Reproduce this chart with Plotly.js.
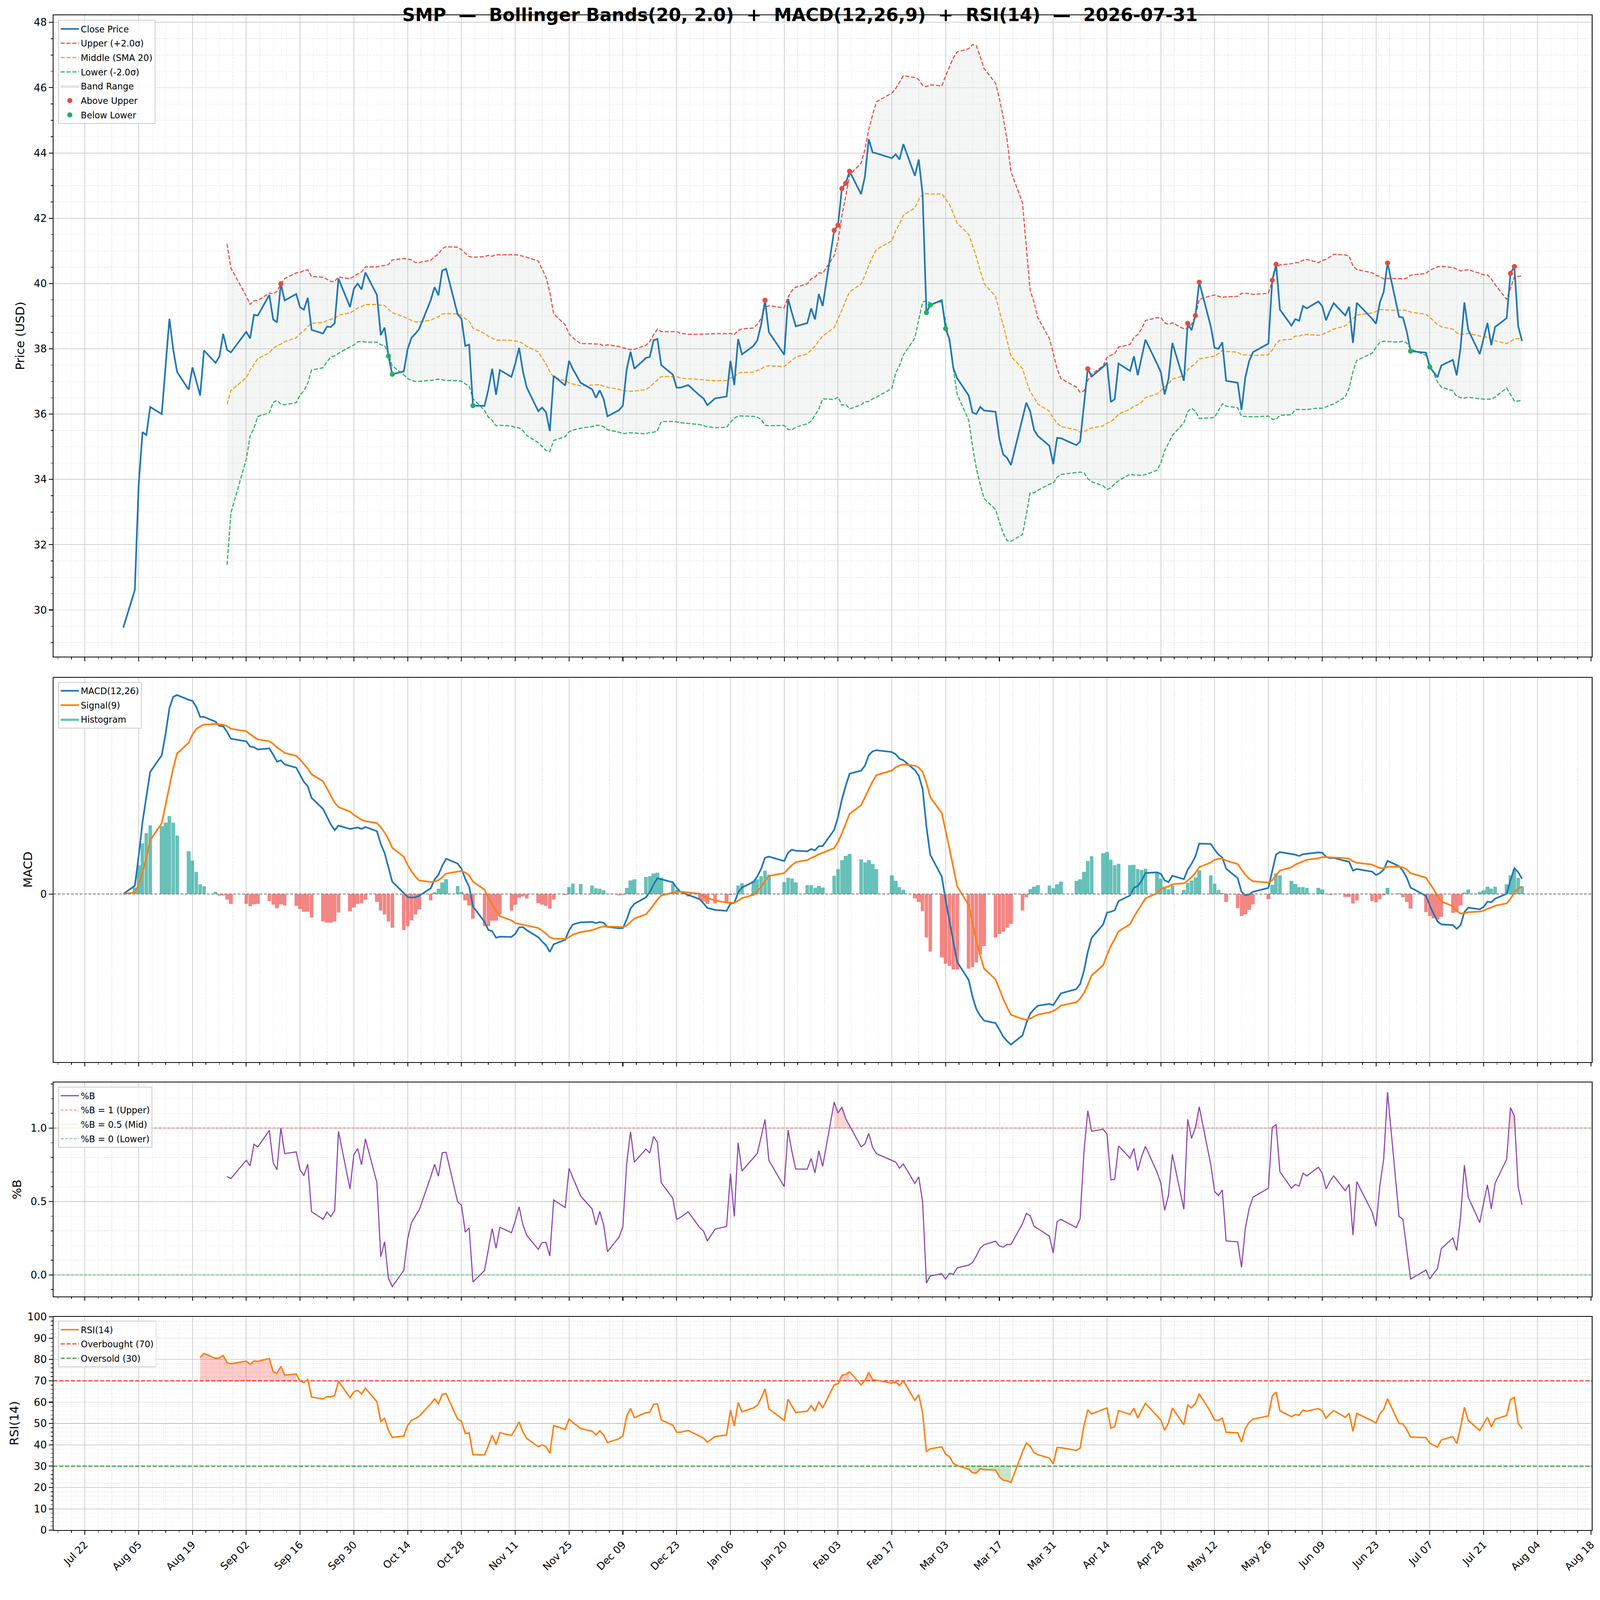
<!DOCTYPE html>
<html>
<head>
<meta charset="utf-8">
<script src="https://cdn.plot.ly/plotly-3.0.1.min.js"></script>
<style>
  html, body { margin: 0; padding: 0; background: #ffffff; overflow: hidden; }
  #plot { width: 4378px; height: 4322px; transform-origin: 0 0; }
</style>
</head>
<body>
<div id="plot"></div>
<script>
// daily closes of SMP, one array per month (exchange trading days)
const closeAug25 = [29.46, 30.61, 33.84, 35.45, 35.36, 36.22, 36.00, 37.40, 38.92, 37.97, 37.29, 36.75, 37.43, 37.01, 36.57, 37.95, 37.57, 37.76, 38.46, 37.97, 37.89];
const closeSep25 = [38.52, 38.32, 39.04, 39.02, 39.65, 38.90, 38.81, 39.99, 39.48, 39.68, 39.27, 39.20, 39.56, 38.58, 38.47, 38.68, 38.67, 38.78, 40.15, 39.28, 39.84];
const closeOct25 = [40.00, 39.82, 40.34, 39.65, 38.42, 38.65, 37.78, 37.22, 37.31, 37.99, 38.34, 38.46, 38.61, 39.49, 39.89, 39.64, 40.40, 40.45, 39.06, 38.92, 38.09, 38.13, 36.26];
const closeNov25 = [36.25, 36.75, 37.39, 36.59, 37.35, 37.14, 37.54, 38.03, 37.31, 36.81, 36.09, 36.20, 36.06, 35.48, 37.17, 36.88, 37.63, 37.38, 36.96];
const closeDec25 = [36.76, 36.50, 36.73, 36.46, 35.93, 36.12, 36.26, 37.37, 37.91, 37.39, 37.72, 37.75, 38.26, 38.30, 37.50, 37.21, 36.81, 36.81, 36.89, 36.57, 36.48, 36.27];
const closeJan26 = [36.48, 36.54, 37.63, 36.89, 38.30, 37.83, 38.09, 38.26, 38.75, 39.49, 38.51, 37.82, 39.53, 39.10, 38.69, 38.79, 39.24, 38.90, 39.68, 39.31];
const closeFeb26 = [41.63, 41.79, 42.91, 43.07, 43.44, 42.74, 43.28, 44.42, 44.02, 43.99, 43.84, 43.96, 43.80, 44.27, 43.30, 43.80, 42.75, 39.11, 39.34];
const closeMar26 = [39.49, 38.62, 38.29, 37.41, 37.10, 36.57, 36.05, 36.00, 36.22, 36.11, 36.07, 35.23, 34.76, 34.66, 34.44, 35.85, 36.35, 36.09, 35.52, 35.33, 35.03, 34.47];
const closeApr26 = [35.27, 35.26, 35.05, 35.16, 36.30, 37.39, 37.15, 37.45, 37.57, 36.37, 36.46, 37.55, 37.32, 37.77, 37.19, 37.74, 38.28, 37.55, 37.29, 36.60, 37.08];
const closeMay26 = [38.18, 37.02, 38.78, 38.57, 39.02, 40.04, 38.69, 38.03, 38.00, 38.20, 37.02, 36.96, 36.13, 37.13, 37.63, 37.90, 38.16, 40.10, 40.59, 39.20];
const closeJun26 = [38.71, 38.91, 38.86, 39.31, 39.24, 39.45, 39.31, 38.87, 39.16, 39.40, 39.02, 39.29, 38.18, 39.41, 38.92, 38.77, 39.42, 39.74, 40.63, 38.98, 38.96];
const closeJul26 = [38.53, 37.93, 37.88, 37.44, 37.28, 37.13, 37.49, 37.66, 37.19, 38.03, 39.42, 38.58, 37.84, 38.32, 38.79, 38.11, 38.67, 38.94, 40.31, 40.52, 38.69, 38.24];

// exchange holidays with no close in the series
const holidays = ['2025-09-01', '2025-11-27', '2025-12-25', '2026-01-01', '2026-01-19',
                  '2026-02-16', '2026-04-03', '2026-05-25', '2026-06-19', '2026-07-03'];

const firstDay = '2025-08-01';
const lastDay = '2026-07-31';
const firstTick = '2025-07-22';

// indicator settings
const BB_WIN = 20, BB_K = 2.0;
const MACD_FAST = 12, MACD_SLOW = 26, MACD_SIG = 9;
const RSI_LEN = 14;

const W = 4378, H = 4322;
const DAY = 86400000;
const FONT = 'DejaVu Sans, Liberation Sans, sans-serif';

const close = [].concat(closeAug25, closeSep25, closeOct25, closeNov25, closeDec25, closeJan26,
                        closeFeb26, closeMar26, closeApr26, closeMay26, closeJun26, closeJul26);

function tradingDays(a, b) {
    const out = [];
    let t = Date.parse(a + 'T00:00:00Z');
    const end = Date.parse(b + 'T00:00:00Z');
    while (t <= end) {
        const d = new Date(t);
        const iso = d.toISOString().slice(0, 10);
        const wd = d.getUTCDay();
        if (wd !== 0 && wd !== 6 && holidays.indexOf(iso) < 0) out.push(iso);
        t += DAY;
    }
    return out;
}
const dates = tradingDays(firstDay, lastDay);
const n = Math.min(dates.length, close.length);

// ---- indicators ----
function ema(x, span) {
    const a = 2 / (span + 1);
    const out = [x[0]];
    for (let i = 1; i < x.length; i++) out.push(a * x[i] + (1 - a) * out[i - 1]);
    return out;
}

const mid = [], upper = [], lower = [];
for (let i = 0; i < n; i++) {
    if (i < BB_WIN - 1) { mid.push(null); upper.push(null); lower.push(null); continue; }
    const w = close.slice(i - BB_WIN + 1, i + 1);
    const m = w.reduce((s, v) => s + v, 0) / BB_WIN;
    const sd = Math.sqrt(w.reduce((s, v) => s + (v - m) * (v - m), 0) / (BB_WIN - 1));
    mid.push(m); upper.push(m + BB_K * sd); lower.push(m - BB_K * sd);
}
const pctB = close.slice(0, n).map((c, i) => upper[i] === null ? null : (c - lower[i]) / (upper[i] - lower[i]));

const emaFast = ema(close.slice(0, n), MACD_FAST), emaSlow = ema(close.slice(0, n), MACD_SLOW);
const macd = emaFast.map((v, i) => v - emaSlow[i]);
const signal = ema(macd, MACD_SIG);
const hist = macd.map((v, i) => v - signal[i]);

// RSI with Wilder style smoothing (alpha = 1/len, no adjust)
const rsi = [null];
{
    const a = 1 / RSI_LEN;
    let g = null, l = null;
    for (let i = 1; i < n; i++) {
        const d = close[i] - close[i - 1];
        const up = Math.max(d, 0), dn = Math.max(-d, 0);
        if (g === null) { g = up; l = dn; } else { g = (1 - a) * g + a * up; l = (1 - a) * l + a * dn; }
        if (i < RSI_LEN) { rsi.push(null); continue; }
        rsi.push(l === 0 ? 100 : 100 - 100 / (1 + g / l));
    }
}

// ---- helpers ----
const bbStart = BB_WIN - 1;
const bx = dates.slice(bbStart, n);
const sig = (cond) => {
    const xs = [], ys = [];
    for (let i = 0; i < n; i++) if (cond(i)) { xs.push(dates[i]); ys.push(close[i]); }
    return {x: xs, y: ys};
};
const above = sig(i => upper[i] !== null && close[i] > upper[i]);
const below = sig(i => lower[i] !== null && close[i] < lower[i]);

// fill_between(where=...) style polygons
function fillRuns(series, level, test, color, xa, ya) {
    const out = [];
    let i = 0;
    while (i < n) {
        if (series[i] !== null && test(series[i])) {
            let j = i;
            while (j + 1 < n && series[j + 1] !== null && test(series[j + 1])) j++;
            const xs = dates.slice(i, j + 1), ys = series.slice(i, j + 1);
            out.push({
                x: xs.concat(xs.slice().reverse()),
                y: ys.concat(xs.map(() => level)),
                type: 'scatter', mode: 'lines', fill: 'toself', fillcolor: color,
                line: {width: 0}, xaxis: xa, yaxis: ya, showlegend: false, hoverinfo: 'skip'
            });
            i = j + 1;
        } else i++;
    }
    return out;
}

function padRange(arrs) {
    let lo = Infinity, hi = -Infinity;
    arrs.forEach(a => a.forEach(v => { if (v !== null) { lo = Math.min(lo, v); hi = Math.max(hi, v); } }));
    const p = (hi - lo) * 0.05;
    return [lo - p, hi + p];
}

const fmt = t => new Date(t).toISOString().replace('T', ' ').slice(0, 19);
const t0 = Date.parse(dates[0] + 'T00:00:00Z'), t1 = Date.parse(dates[n - 1] + 'T00:00:00Z');
const xRange = [fmt(t0 - 0.05 * (t1 - t0)), fmt(t1 + 0.05 * (t1 - t0))];

// ---- traces ----
const traces = [];

// price panel
traces.push({x: bx, y: upper.slice(bbStart), type: 'scatter', mode: 'lines', line: {width: 0},
    xaxis: 'x', yaxis: 'y', showlegend: false, hoverinfo: 'skip'});
traces.push({x: bx, y: lower.slice(bbStart), type: 'scatter', mode: 'lines', line: {width: 0},
    fill: 'tonexty', fillcolor: 'rgba(149,165,166,0.10)', showlegend: false,
    xaxis: 'x', yaxis: 'y', hoverinfo: 'skip'});
// legend-only patch for the band
traces.push({x: [null], y: [null], type: 'scatter', mode: 'lines', fill: 'toself',
    fillcolor: 'rgba(149,165,166,0.3)', line: {width: 0}, name: 'Band Range',
    xaxis: 'x', yaxis: 'y', legendrank: 5, legendgroup: 'p5'});
traces.push({x: bx, y: upper.slice(bbStart), type: 'scatter', mode: 'lines', name: 'Upper (+2.0σ)',
    line: {color: '#e74c3c', width: 3, dash: '11px,5px'}, xaxis: 'x', yaxis: 'y', legendrank: 2, legendgroup: 'p2'});
traces.push({x: bx, y: mid.slice(bbStart), type: 'scatter', mode: 'lines', name: 'Middle (SMA 20)',
    line: {color: '#f39c12', width: 3, dash: '11px,5px'}, xaxis: 'x', yaxis: 'y', legendrank: 3, legendgroup: 'p3'});
traces.push({x: bx, y: lower.slice(bbStart), type: 'scatter', mode: 'lines', name: 'Lower (-2.0σ)',
    line: {color: '#27ae60', width: 3, dash: '11px,5px'}, xaxis: 'x', yaxis: 'y', legendrank: 4, legendgroup: 'p4'});
traces.push({x: dates.slice(0, n), y: close.slice(0, n), type: 'scatter', mode: 'lines', name: 'Close Price',
    line: {color: '#1f77b4', width: 4.5}, xaxis: 'x', yaxis: 'y', legendrank: 1, legendgroup: 'p1'});
traces.push({x: above.x, y: above.y, type: 'scatter', mode: 'markers', name: 'Above Upper',
    marker: {color: '#e74c3c', size: 14}, xaxis: 'x', yaxis: 'y', legendrank: 6, legendgroup: 'p6'});
traces.push({x: below.x, y: below.y, type: 'scatter', mode: 'markers', name: 'Below Lower',
    marker: {color: '#27ae60', size: 14}, xaxis: 'x', yaxis: 'y', legendrank: 7, legendgroup: 'p7'});

// MACD panel
const posX = [], posY = [], negX = [], negY = [];
for (let i = 0; i < n; i++) {
    if (hist[i] >= 0) { posX.push(dates[i]); posY.push(hist[i]); } else { negX.push(dates[i]); negY.push(hist[i]); }
}
traces.push({x: posX, y: posY, type: 'bar', width: 0.95 * DAY, showlegend: false,
    marker: {color: 'rgba(38,166,154,0.7)', line: {width: 0}}, xaxis: 'x2', yaxis: 'y2'});
traces.push({x: negX, y: negY, type: 'bar', width: 0.95 * DAY, showlegend: false,
    marker: {color: 'rgba(239,83,80,0.7)', line: {width: 0}}, xaxis: 'x2', yaxis: 'y2'});
traces.push({x: [null], y: [null], type: 'scatter', mode: 'lines', fill: 'toself', name: 'Histogram',
    fillcolor: 'rgba(38,166,154,0.7)', line: {width: 0}, xaxis: 'x2', yaxis: 'y2',
    legend: 'legend2', legendrank: 3, legendgroup: 'm3'});
traces.push({x: dates.slice(0, n), y: macd, type: 'scatter', mode: 'lines', name: 'MACD(12,26)',
    line: {color: '#1f77b4', width: 4.5}, xaxis: 'x2', yaxis: 'y2', legend: 'legend2', legendrank: 1, legendgroup: 'm1'});
traces.push({x: dates.slice(0, n), y: signal, type: 'scatter', mode: 'lines', name: 'Signal(9)',
    line: {color: '#ff7f0e', width: 4.5}, xaxis: 'x2', yaxis: 'y2', legend: 'legend2', legendrank: 2, legendgroup: 'm2'});

// %B panel
fillRuns(pctB, 1, v => v > 1, 'rgba(231,76,60,0.22)', 'x3', 'y3').forEach(t => traces.push(t));
fillRuns(pctB, 0, v => v < 0, 'rgba(39,174,96,0.22)', 'x3', 'y3').forEach(t => traces.push(t));
traces.push({x: xRange, y: [1, 1], type: 'scatter', mode: 'lines', name: '%B = 1 (Upper)',
    line: {color: 'rgba(231,76,60,0.7)', width: 2.2, dash: '8px,4px'}, xaxis: 'x3', yaxis: 'y3',
    legend: 'legend3', legendrank: 2, legendgroup: 'b2'});
traces.push({x: xRange, y: [0.5, 0.5], type: 'scatter', mode: 'lines', name: '%B = 0.5 (Mid)',
    line: {color: 'rgba(243,156,18,0.6)', width: 2.2, dash: '2px,3px'}, xaxis: 'x3', yaxis: 'y3',
    legend: 'legend3', legendrank: 3, legendgroup: 'b3'});
traces.push({x: xRange, y: [0, 0], type: 'scatter', mode: 'lines', name: '%B = 0 (Lower)',
    line: {color: 'rgba(39,174,96,0.7)', width: 2.2, dash: '8px,4px'}, xaxis: 'x3', yaxis: 'y3',
    legend: 'legend3', legendrank: 4, legendgroup: 'b4'});
traces.push({x: dates.slice(0, n), y: pctB, type: 'scatter', mode: 'lines', name: '%B',
    line: {color: '#8e44ad', width: 3}, xaxis: 'x3', yaxis: 'y3', legend: 'legend3', legendrank: 1, legendgroup: 'b1'});

// RSI panel
fillRuns(rsi, 70, v => v > 70, 'rgba(255,0,0,0.2)', 'x4', 'y4').forEach(t => traces.push(t));
fillRuns(rsi, 30, v => v < 30, 'rgba(0,128,0,0.2)', 'x4', 'y4').forEach(t => traces.push(t));
traces.push({x: xRange, y: [70, 70], type: 'scatter', mode: 'lines', name: 'Overbought (70)',
    line: {color: 'rgba(255,0,0,0.8)', width: 3, dash: '11px,5px'}, xaxis: 'x4', yaxis: 'y4',
    legend: 'legend4', legendrank: 2, legendgroup: 'r2'});
traces.push({x: xRange, y: [30, 30], type: 'scatter', mode: 'lines', name: 'Oversold (30)',
    line: {color: 'rgba(0,128,0,0.8)', width: 3, dash: '11px,5px'}, xaxis: 'x4', yaxis: 'y4',
    legend: 'legend4', legendrank: 3, legendgroup: 'r3'});
traces.push({x: dates.slice(0, n), y: rsi, type: 'scatter', mode: 'lines', name: 'RSI(14)',
    line: {color: '#ff7f0e', width: 4}, xaxis: 'x4', yaxis: 'y4', legend: 'legend4', legendrank: 1, legendgroup: 'r1'});

// ---- layout ----
const xDom = [146 / W, 4356 / W];
const yDom = (top, bot) => [1 - bot / H, 1 - top / H];
const dPrice = yDom(42, 1797), dMacd = yDom(1854, 2906), dB = yDom(2962, 3547), dRsi = yDom(3603, 4187);

const minorGrid = {ticks: 'outside', ticklen: 5, tickwidth: 1.6, tickcolor: '#000',
    showgrid: true, gridcolor: '#e3e3e3', gridwidth: 1.4, griddash: 'dot'};
const tickFont = {family: FONT, size: 28, color: '#000'};

function xAxis(anchor, labels) {
    return {
        type: 'date', domain: xDom, anchor: anchor, range: xRange, autorange: false,
        tick0: firstTick, dtick: 14 * DAY, tickformat: '%b %d', showticklabels: labels,
        tickangle: -45, tickfont: tickFont,
        ticks: 'outside', ticklen: 10, tickwidth: 2.2, tickcolor: '#000',
        showline: true, linecolor: '#000', linewidth: 2.2, mirror: true,
        showgrid: true, gridcolor: '#d0d0d0', gridwidth: 2, zeroline: false,
        minor: Object.assign({dtick: 3.5 * DAY, tick0: firstTick}, minorGrid)
    };
}
function yAxis(anchor, dom, extra) {
    return Object.assign({
        domain: dom, anchor: anchor, autorange: false, tickfont: tickFont,
        ticks: 'outside', ticklen: 10, tickwidth: 2.2, tickcolor: '#000',
        showline: true, linecolor: '#000', linewidth: 2.2, mirror: true,
        showgrid: true, gridcolor: '#d0d0d0', gridwidth: 2, zeroline: false
    }, extra);
}

const legendBase = {
    xanchor: 'left', yanchor: 'top', x: 159 / W,
    bgcolor: 'rgba(255,255,255,0.8)', bordercolor: '#cccccc', borderwidth: 2,
    font: {family: FONT, size: 24, color: '#000'}, tracegroupgap: 5, itemwidth: 50
};

const yLabel = (text, x, dom) => ({
    text: text, xref: 'paper', yref: 'paper', x: x / W, y: (dom[0] + dom[1]) / 2,
    xanchor: 'center', yanchor: 'middle', textangle: -90, showarrow: false,
    font: {family: FONT, size: 33, color: '#000'}
});

const sp = '\u00a0';
const titleText = 'SMP' + sp + sp + '—' + sp + sp + 'Bollinger Bands(20, 2.0)' + sp + sp + '+' + sp + sp +
    'MACD(12,26,9)' + sp + sp + '+' + sp + sp + 'RSI(14)' + sp + sp + '—' + sp + sp + '2026-07-31';

const layout = {
    width: W, height: H,
    margin: {l: 0, r: 0, t: 0, b: 0, autoexpand: false},
    paper_bgcolor: '#ffffff', plot_bgcolor: '#ffffff',
    barmode: 'overlay', bargap: 0,
    title: {text: '<b>' + titleText + '</b>', x: 0.5, xanchor: 'center', xref: 'paper',
        y: 1 - 41 / H, yanchor: 'middle', font: {family: FONT, size: 49, color: '#000'}},
    xaxis: xAxis('y', false),
    xaxis2: Object.assign(xAxis('y2', false), {matches: 'x'}),
    xaxis3: Object.assign(xAxis('y3', false), {matches: 'x'}),
    xaxis4: Object.assign(xAxis('y4', true), {matches: 'x'}),
    yaxis: yAxis('x', dPrice, {range: padRange([close, upper, lower]), tick0: 0, dtick: 2, tickformat: 'd',
        minor: Object.assign({dtick: 0.5}, minorGrid)}),
    yaxis2: yAxis('x2', dMacd, {range: padRange([macd, signal, hist]), tickvals: [0], ticktext: ['0'], showgrid: false}),
    yaxis3: yAxis('x3', dB, {range: padRange([pctB]), tick0: 0, dtick: 0.5, tickformat: '.1f',
        minor: Object.assign({dtick: 0.1}, minorGrid)}),
    yaxis4: yAxis('x4', dRsi, {range: [0, 100], tick0: 0, dtick: 10, tickformat: 'd',
        minor: Object.assign({dtick: 2}, minorGrid)}),
    legend: Object.assign({y: 1 - 55 / H}, legendBase),
    legend2: Object.assign({y: 1 - 1866 / H}, legendBase),
    legend3: Object.assign({y: 1 - 2974 / H}, legendBase),
    legend4: Object.assign({y: 1 - 3614 / H}, legendBase),
    shapes: [
        {type: 'line', xref: 'x2 domain', yref: 'y2', x0: 0, x1: 1, y0: 0, y1: 0, layer: 'above',
            line: {color: '#808080', width: 2.5, dash: '8px,4px'}},
        {type: 'line', xref: 'x4 domain', yref: 'y4', x0: 0, x1: 1, y0: 50, y1: 50, layer: 'above',
            line: {color: 'rgba(128,128,128,0.6)', width: 2, dash: '2px,3px'}}
    ],
    annotations: [
        yLabel('Price (USD)', 55, dPrice),
        yLabel('MACD', 76, dMacd),
        yLabel('%B', 46, dB),
        yLabel('RSI(14)', 38, dRsi)
    ]
};

// the window may be smaller than the figure: shrink the fixed-size figure evenly to fit
const plotDiv = document.getElementById('plot');
const fit = Math.min(window.innerWidth / W, window.innerHeight / H);
if (fit > 0 && Math.abs(fit - 1) > 0.002) plotDiv.style.transform = 'scale(' + fit + ')';

Plotly.newPlot(plotDiv, traces, layout, {staticPlot: true});
</script>
</body>
</html>
